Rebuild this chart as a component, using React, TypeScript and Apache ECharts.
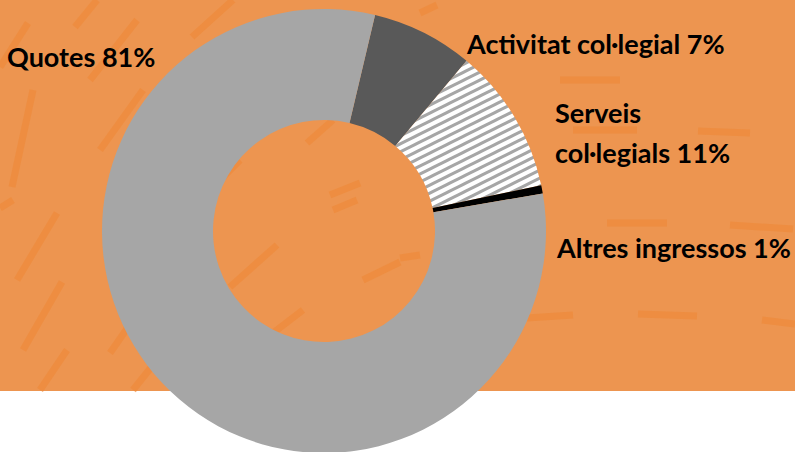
import React, { useEffect, useRef } from "react";
import * as echarts from "echarts";

// ---- data ----
const categories = ["Activitat col·legial", "Serveis\ncol·legials", "Altres ingressos", "Quotes"];
const values = [7.4, 10.6, 0.6, 81.4];
const sliceColors = ["#595959", "hatch", "#000000", "#a6a6a6"];

// ---- layout (not data) ----
const labelAnchors = [
  [467, 43],
  [555, 112],
  [557, 247],
  [7, 56],
];

const dashes: number[][] = [
  [75, 27, 97, 0], [90, 80, 137, 20], [100, 150, 143, 90], [0, 67, 28, 23], [12, 187, 33, 90],
  [192, 37, 233, 0], [307, 143, 333, 120], [17, 280, 57, 213], [23, 350, 62, 282],
  [40, 390, 67, 350], [110, 353, 140, 310], [133, 390, 157, 360], [230, 287, 277, 245],
  [273, 333, 303, 310], [363, 280, 400, 262], [333, 210, 357, 200], [0, 208, 13, 200],
  [607, 223, 667, 223], [730, 225, 793, 229], [527, 318, 573, 315], [638, 314, 697, 316],
  [762, 320, 795, 324], [400, 258, 420, 255], [573, 130, 637, 130], [698, 131, 750, 133],
  [420, 13, 437, 5], [330, 195, 360, 183], [215, 185, 240, 160], [560, 80, 620, 80],
];

function makeHatch() {
  const c = document.createElement("canvas");
  c.width = 16;
  c.height = 8;
  const ctx = c.getContext("2d")!;
  ctx.fillStyle = "#ffffff";
  ctx.fillRect(0, 0, 16, 8);
  ctx.strokeStyle = "#a6a6a6";
  ctx.lineWidth = 3;
  for (let k = -1; k <= 1; k++) {
    ctx.beginPath();
    ctx.moveTo(-2, 8 + 1 + k * 8);
    ctx.lineTo(18, 0 - 1 + k * 8);
    ctx.stroke();
  }
  return c;
}

export default function App() {
  const ref = useRef<HTMLDivElement>(null);
  useEffect(() => {
    if (!ref.current) return;
    const chart = echarts.init(ref.current, null, { renderer: "svg" });
    const hatch = makeHatch();
    const total = values.reduce((a, b) => a + b, 0);

    const bg: any[] = [
      { type: "rect", shape: { x: 0, y: 0, width: 795, height: 391 }, style: { fill: "#ed9550" }, z: -10 },
      ...dashes.map((d) => ({
        type: "line",
        shape: { x1: d[0], y1: d[1], x2: d[2], y2: d[3] },
        style: { stroke: "#ee8a3a", lineWidth: 7, opacity: 0.7 },
        z: -9,
      })),
    ];

    const labels = categories.map((c, i) => ({
      type: "text",
      x: labelAnchors[i][0],
      y: labelAnchors[i][1] - 20,
      z: 10,
      style: {
        text: `${c} ${Math.round((values[i] / total) * 100)}%`,
        fill: "#000000",
        font: "bold 27px Lato",
        lineHeight: 40,
        verticalAlign: "top",
        align: "left",
      },
    }));

    chart.setOption({
      animation: false,
      backgroundColor: "#ffffff",
      graphic: { elements: [...bg, ...labels] },
      series: [
        {
          type: "pie",
          center: [324, 231],
          radius: [111, 222],
          startAngle: 76.7,
          clockwise: true,
          label: { show: false },
          labelLine: { show: false },
          silent: true,
          itemStyle: { borderWidth: 0 },
          data: categories.map((c, i) => ({
            name: c,
            value: values[i],
            itemStyle: {
              color: sliceColors[i] === "hatch" ? { image: hatch, repeat: "repeat" } : sliceColors[i],
            },
          })),
        },
      ],
    });
    return () => chart.dispose();
  }, []);
  return (
    <div
      ref={ref}
      style={{ position: "absolute", left: 0, top: 0, width: 795, height: 452 }}
    />
  );
}
